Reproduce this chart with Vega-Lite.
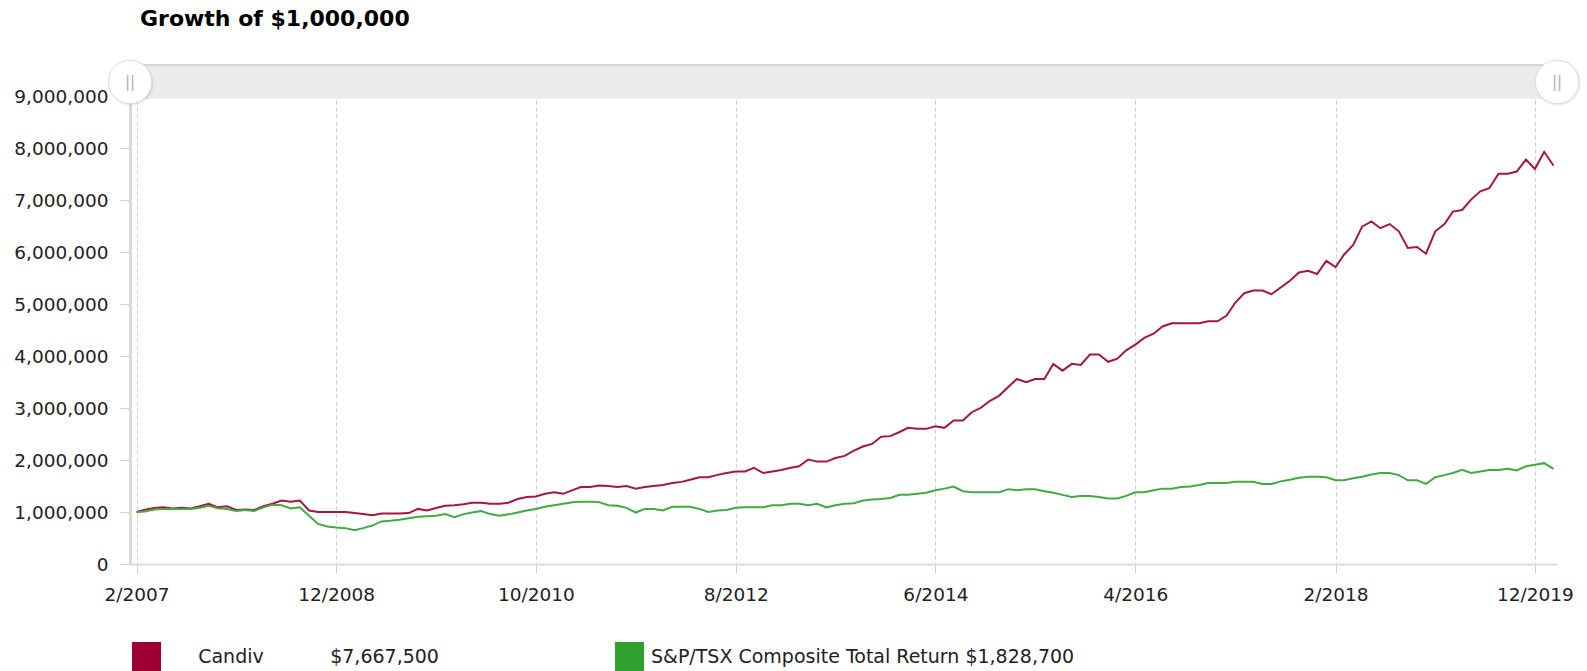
{
  "$schema": "https://vega.github.io/schema/vega-lite/v6.json",
  "autosize": {"type": "none"},
  "width": 1427,
  "height": 499,
  "padding": {"left": 130, "top": 65, "right": 30, "bottom": 107},
  "background": "white",
  "title": {"text": "Growth of $1,000,000", "anchor": "start", "frame": "group", "dx": 10, "offset": 10, "baseline": "alphabetic", "fontSize": 22, "fontWeight": "bold", "font": "DejaVu Sans", "color": "#000"},
  "config": {"view": {"stroke": null}, "font": "DejaVu Sans"},
  "data": {"values": [
    {"d":"2007-02-01T00:00","c":1000000,"s":1000000},
    {"d":"2007-03-01T00:00","c":1044000,"s":1010000},
    {"d":"2007-04-01T00:00","c":1077000,"s":1050000},
    {"d":"2007-05-01T00:00","c":1090000,"s":1060000},
    {"d":"2007-06-01T00:00","c":1070000,"s":1060000},
    {"d":"2007-07-01T00:00","c":1080000,"s":1060000},
    {"d":"2007-08-01T00:00","c":1070000,"s":1060000},
    {"d":"2007-09-01T00:00","c":1110000,"s":1080000},
    {"d":"2007-10-01T00:00","c":1160000,"s":1120000},
    {"d":"2007-11-01T00:00","c":1090000,"s":1070000},
    {"d":"2007-12-01T00:00","c":1110000,"s":1060000},
    {"d":"2008-01-01T00:00","c":1040000,"s":1020000},
    {"d":"2008-02-01T00:00","c":1050000,"s":1040000},
    {"d":"2008-03-01T00:00","c":1040000,"s":1020000},
    {"d":"2008-04-01T00:00","c":1110000,"s":1090000},
    {"d":"2008-05-01T00:00","c":1160000,"s":1140000},
    {"d":"2008-06-01T00:00","c":1220000,"s":1130000},
    {"d":"2008-07-01T00:00","c":1200000,"s":1070000},
    {"d":"2008-08-01T00:00","c":1220000,"s":1090000},
    {"d":"2008-09-01T00:00","c":1030000,"s":930000},
    {"d":"2008-10-01T00:00","c":1000000,"s":770000},
    {"d":"2008-11-01T00:00","c":1000000,"s":720000},
    {"d":"2008-12-01T00:00","c":1000000,"s":700000},
    {"d":"2009-01-01T00:00","c":1000000,"s":690000},
    {"d":"2009-02-01T00:00","c":980000,"s":650000},
    {"d":"2009-03-01T00:00","c":960000,"s":690000},
    {"d":"2009-04-01T00:00","c":940000,"s":740000},
    {"d":"2009-05-01T00:00","c":970000,"s":820000},
    {"d":"2009-06-01T00:00","c":970000,"s":830000},
    {"d":"2009-07-01T00:00","c":970000,"s":850000},
    {"d":"2009-08-01T00:00","c":980000,"s":880000},
    {"d":"2009-09-01T00:00","c":1060000,"s":910000},
    {"d":"2009-10-01T00:00","c":1030000,"s":920000},
    {"d":"2009-11-01T00:00","c":1077000,"s":930000},
    {"d":"2009-12-01T00:00","c":1120000,"s":960000},
    {"d":"2010-01-01T00:00","c":1130000,"s":900000},
    {"d":"2010-02-01T00:00","c":1150000,"s":960000},
    {"d":"2010-03-01T00:00","c":1180000,"s":990000},
    {"d":"2010-04-01T00:00","c":1180000,"s":1020000},
    {"d":"2010-05-01T00:00","c":1160000,"s":960000},
    {"d":"2010-06-01T00:00","c":1160000,"s":930000},
    {"d":"2010-07-01T00:00","c":1180000,"s":955000},
    {"d":"2010-08-01T00:00","c":1250000,"s":990000},
    {"d":"2010-09-01T00:00","c":1290000,"s":1030000},
    {"d":"2010-10-01T00:00","c":1300000,"s":1060000},
    {"d":"2010-11-01T00:00","c":1350000,"s":1100000},
    {"d":"2010-12-01T00:00","c":1380000,"s":1130000},
    {"d":"2011-01-01T00:00","c":1350000,"s":1160000},
    {"d":"2011-02-01T00:00","c":1420000,"s":1190000},
    {"d":"2011-03-01T00:00","c":1480000,"s":1200000},
    {"d":"2011-04-01T00:00","c":1480000,"s":1200000},
    {"d":"2011-05-01T00:00","c":1510000,"s":1190000},
    {"d":"2011-06-01T00:00","c":1500000,"s":1130000},
    {"d":"2011-07-01T00:00","c":1480000,"s":1120000},
    {"d":"2011-08-01T00:00","c":1500000,"s":1080000},
    {"d":"2011-09-01T00:00","c":1450000,"s":990000},
    {"d":"2011-10-01T00:00","c":1480000,"s":1060000},
    {"d":"2011-11-01T00:00","c":1500000,"s":1060000},
    {"d":"2011-12-01T00:00","c":1520000,"s":1030000},
    {"d":"2012-01-01T00:00","c":1560000,"s":1100000},
    {"d":"2012-02-01T00:00","c":1580000,"s":1100000},
    {"d":"2012-03-01T00:00","c":1620000,"s":1100000},
    {"d":"2012-04-01T00:00","c":1670000,"s":1060000},
    {"d":"2012-05-01T00:00","c":1670000,"s":1000000},
    {"d":"2012-06-01T00:00","c":1715000,"s":1030000},
    {"d":"2012-07-01T00:00","c":1750000,"s":1040000},
    {"d":"2012-08-01T00:00","c":1780000,"s":1080000},
    {"d":"2012-09-01T00:00","c":1780000,"s":1090000},
    {"d":"2012-10-01T00:00","c":1850000,"s":1090000},
    {"d":"2012-11-01T00:00","c":1750000,"s":1090000},
    {"d":"2012-12-01T00:00","c":1780000,"s":1130000},
    {"d":"2013-01-01T00:00","c":1810000,"s":1130000},
    {"d":"2013-02-01T00:00","c":1850000,"s":1160000},
    {"d":"2013-03-01T00:00","c":1880000,"s":1160000},
    {"d":"2013-04-01T00:00","c":2010000,"s":1130000},
    {"d":"2013-05-01T00:00","c":1970000,"s":1160000},
    {"d":"2013-06-01T00:00","c":1970000,"s":1090000},
    {"d":"2013-07-01T00:00","c":2040000,"s":1130000},
    {"d":"2013-08-01T00:00","c":2080000,"s":1160000},
    {"d":"2013-09-01T00:00","c":2180000,"s":1170000},
    {"d":"2013-10-01T00:00","c":2260000,"s":1220000},
    {"d":"2013-11-01T00:00","c":2310000,"s":1240000},
    {"d":"2013-12-01T00:00","c":2450000,"s":1250000},
    {"d":"2014-01-01T00:00","c":2460000,"s":1270000},
    {"d":"2014-02-01T00:00","c":2540000,"s":1330000},
    {"d":"2014-03-01T00:00","c":2620000,"s":1330000},
    {"d":"2014-04-01T00:00","c":2600000,"s":1350000},
    {"d":"2014-05-01T00:00","c":2600000,"s":1370000},
    {"d":"2014-06-01T00:00","c":2650000,"s":1420000},
    {"d":"2014-07-01T00:00","c":2620000,"s":1450000},
    {"d":"2014-08-01T00:00","c":2760000,"s":1490000},
    {"d":"2014-09-01T00:00","c":2760000,"s":1400000},
    {"d":"2014-10-01T00:00","c":2920000,"s":1380000},
    {"d":"2014-11-01T00:00","c":3010000,"s":1380000},
    {"d":"2014-12-01T00:00","c":3140000,"s":1380000},
    {"d":"2015-01-01T00:00","c":3240000,"s":1380000},
    {"d":"2015-02-01T00:00","c":3410000,"s":1440000},
    {"d":"2015-03-01T00:00","c":3560000,"s":1420000},
    {"d":"2015-04-01T00:00","c":3500000,"s":1440000},
    {"d":"2015-05-01T00:00","c":3560000,"s":1440000},
    {"d":"2015-06-01T00:00","c":3560000,"s":1400000},
    {"d":"2015-07-01T00:00","c":3850000,"s":1370000},
    {"d":"2015-08-01T00:00","c":3720000,"s":1330000},
    {"d":"2015-09-01T00:00","c":3850000,"s":1290000},
    {"d":"2015-10-01T00:00","c":3830000,"s":1310000},
    {"d":"2015-11-01T00:00","c":4030000,"s":1310000},
    {"d":"2015-12-01T00:00","c":4030000,"s":1290000},
    {"d":"2016-01-01T00:00","c":3890000,"s":1260000},
    {"d":"2016-02-01T00:00","c":3950000,"s":1260000},
    {"d":"2016-03-01T00:00","c":4110000,"s":1310000},
    {"d":"2016-04-01T00:00","c":4220000,"s":1380000},
    {"d":"2016-05-01T00:00","c":4350000,"s":1380000},
    {"d":"2016-06-01T00:00","c":4430000,"s":1420000},
    {"d":"2016-07-01T00:00","c":4570000,"s":1450000},
    {"d":"2016-08-01T00:00","c":4630000,"s":1450000},
    {"d":"2016-09-01T00:00","c":4630000,"s":1480000},
    {"d":"2016-10-01T00:00","c":4630000,"s":1490000},
    {"d":"2016-11-01T00:00","c":4630000,"s":1520000},
    {"d":"2016-12-01T00:00","c":4670000,"s":1560000},
    {"d":"2017-01-01T00:00","c":4670000,"s":1560000},
    {"d":"2017-02-01T00:00","c":4780000,"s":1560000},
    {"d":"2017-03-01T00:00","c":5020000,"s":1580000},
    {"d":"2017-04-01T00:00","c":5210000,"s":1580000},
    {"d":"2017-05-01T00:00","c":5260000,"s":1580000},
    {"d":"2017-06-01T00:00","c":5260000,"s":1540000},
    {"d":"2017-07-01T00:00","c":5190000,"s":1540000},
    {"d":"2017-08-01T00:00","c":5320000,"s":1590000},
    {"d":"2017-09-01T00:00","c":5450000,"s":1620000},
    {"d":"2017-10-01T00:00","c":5610000,"s":1660000},
    {"d":"2017-11-01T00:00","c":5640000,"s":1680000},
    {"d":"2017-12-01T00:00","c":5580000,"s":1680000},
    {"d":"2018-01-01T00:00","c":5830000,"s":1670000},
    {"d":"2018-02-01T00:00","c":5710000,"s":1610000},
    {"d":"2018-03-01T00:00","c":5950000,"s":1610000},
    {"d":"2018-04-01T00:00","c":6140000,"s":1650000},
    {"d":"2018-05-01T00:00","c":6490000,"s":1680000},
    {"d":"2018-06-01T00:00","c":6590000,"s":1720000},
    {"d":"2018-07-01T00:00","c":6460000,"s":1750000},
    {"d":"2018-08-01T00:00","c":6540000,"s":1750000},
    {"d":"2018-09-01T00:00","c":6400000,"s":1710000},
    {"d":"2018-10-01T00:00","c":6080000,"s":1610000},
    {"d":"2018-11-01T00:00","c":6100000,"s":1610000},
    {"d":"2018-12-01T00:00","c":5970000,"s":1540000},
    {"d":"2019-01-01T00:00","c":6400000,"s":1670000},
    {"d":"2019-02-01T00:00","c":6540000,"s":1710000},
    {"d":"2019-03-01T00:00","c":6780000,"s":1750000},
    {"d":"2019-04-01T00:00","c":6810000,"s":1810000},
    {"d":"2019-05-01T00:00","c":7010000,"s":1750000},
    {"d":"2019-06-01T00:00","c":7170000,"s":1780000},
    {"d":"2019-07-01T00:00","c":7230000,"s":1810000},
    {"d":"2019-08-01T00:00","c":7510000,"s":1810000},
    {"d":"2019-09-01T00:00","c":7510000,"s":1830000},
    {"d":"2019-10-01T00:00","c":7550000,"s":1800000},
    {"d":"2019-11-01T00:00","c":7780000,"s":1880000},
    {"d":"2019-12-01T00:00","c":7600000,"s":1910000},
    {"d":"2020-01-01T00:00","c":7930000,"s":1940000},
    {"d":"2020-02-01T00:00","c":7667500,"s":1828700}
  ]},
  "layer": [
    {
      "transform": [{"fold": ["c", "s"], "as": ["series", "value"]}],
      "mark": {"type": "line", "strokeWidth": 2},
      "encoding": {
        "x": {
          "field": "d", "type": "temporal",
          "scale": {"domain": [{"year": 2007, "month": 1, "date": 10}, {"year": 2020, "month": 2, "date": 13}]},
          "axis": {
            "values": [
              {"year": 2007, "month": 2, "date": 1},
              {"year": 2008, "month": 12, "date": 1},
              {"year": 2010, "month": 10, "date": 1},
              {"year": 2012, "month": 8, "date": 1},
              {"year": 2014, "month": 6, "date": 1},
              {"year": 2016, "month": 4, "date": 1},
              {"year": 2018, "month": 2, "date": 1},
              {"year": 2019, "month": 12, "date": 1}
            ],
            "format": "%-m/%Y", "title": null,
            "grid": true, "gridDash": [4, 3], "gridColor": "#cfcfcf", "gridWidth": 1,
            "domainColor": "#dddddd", "domainWidth": 2,
            "tickColor": "#cfcfcf", "tickSize": 9,
            "labelFontSize": 18.5, "labelColor": "#222222", "labelPadding": 12,
            "labelFlush": false, "labelOverlap": false
          }
        },
        "y": {
          "field": "value", "type": "quantitative",
          "scale": {"domain": [0, 9600000], "nice": false},
          "axis": {
            "values": [0, 1000000, 2000000, 3000000, 4000000, 5000000, 6000000, 7000000, 8000000, 9000000],
            "format": ",d", "title": null, "grid": false,
            "domainColor": "#d9d9d9", "domainWidth": 3,
            "tickColor": "#cfcfcf", "tickSize": 10,
            "labelFontSize": 18.5, "labelColor": "#222222", "labelPadding": 12
          }
        },
        "color": {
          "field": "series", "type": "nominal",
          "scale": {"domain": ["c", "s"], "range": ["#A8153F", "#42AA42"]},
          "legend": {
            "orient": "none", "legendX": 2, "legendY": 577,
            "direction": "horizontal", "title": null,
            "symbolType": "square", "symbolSize": 841, "symbolStrokeWidth": 0,
            "labelFontSize": 19, "labelColor": "#222222", "labelOffset": 7, "labelLimit": 800,
            "columnPadding": 176,
            "labelExpr": "datum.value == 'c' ? '\u200b\u00a0\u00a0\u00a0\u00a0\u00a0Candiv\u00a0\u00a0\u00a0\u00a0\u00a0\u00a0\u00a0\u00a0\u00a0\u00a0\u00a0$7,667,500' : 'S&P/TSX Composite Total Return $1,828,700'",
            "encode": {"symbols": {"update": {"fill": {"signal": "datum.value == 'c' ? '#9E0035' : '#2EA02E'"}, "strokeWidth": {"value": 0}, "opacity": {"value": 1}}}}
          }
        }
      }
    },
    {
      "data": {"values": [{}]},
      "mark": {"type": "rect", "color": "#ebebeb"},
      "encoding": {
        "x": {"datum": {"year": 2007, "month": 1, "date": 10}, "type": "temporal"},
        "x2": {"datum": {"year": 2020, "month": 2, "date": 13}},
        "y": {"datum": 8950000, "type": "quantitative"},
        "y2": {"datum": 9600000}
      }
    },
    {
      "data": {"values": [{}]},
      "mark": {"type": "rule", "color": "#d6d6d6", "strokeWidth": 2},
      "encoding": {"y": {"datum": 9600000, "type": "quantitative"}}
    },
    {
      "data": {"values": [{}]},
      "mark": {"type": "point", "shape": "circle", "size": 2050, "filled": true, "color": "#000000", "opacity": 0.07},
      "encoding": {
        "x": {"datum": {"year": 2007, "month": 1, "date": 14}, "type": "temporal"},
        "y": {"datum": 9250000, "type": "quantitative"}
      }
    },
    {
      "data": {"values": [{}]},
      "mark": {"type": "point", "shape": "circle", "size": 2050, "filled": true, "color": "#000000", "opacity": 0.07},
      "encoding": {
        "x": {"datum": {"year": 2020, "month": 2, "date": 17}, "type": "temporal"},
        "y": {"datum": 9250000, "type": "quantitative"}
      }
    },
    {
      "data": {"values": [{}]},
      "mark": {"type": "point", "shape": "circle", "size": 1886, "filled": true, "fill": "white", "stroke": "#dcdcdc", "strokeWidth": 1, "opacity": 1, "fillOpacity": 1},
      "encoding": {
        "x": {"datum": {"year": 2007, "month": 1, "date": 10}, "type": "temporal"},
        "y": {"datum": 9275000, "type": "quantitative"}
      }
    },
    {
      "data": {"values": [{}]},
      "mark": {"type": "point", "shape": "circle", "size": 1886, "filled": true, "fill": "white", "stroke": "#dcdcdc", "strokeWidth": 1, "opacity": 1, "fillOpacity": 1},
      "encoding": {
        "x": {"datum": {"year": 2020, "month": 2, "date": 13}, "type": "temporal"},
        "y": {"datum": 9275000, "type": "quantitative"}
      }
    },
    {
      "data": {"values": [{}]},
      "mark": {"type": "text", "text": "||", "fontSize": 15, "color": "#b0b0b0", "font": "DejaVu Sans"},
      "encoding": {
        "x": {"datum": {"year": 2007, "month": 1, "date": 10}, "type": "temporal"},
        "y": {"datum": 9275000, "type": "quantitative"}
      }
    },
    {
      "data": {"values": [{}]},
      "mark": {"type": "text", "text": "||", "fontSize": 15, "color": "#b0b0b0", "font": "DejaVu Sans"},
      "encoding": {
        "x": {"datum": {"year": 2020, "month": 2, "date": 13}, "type": "temporal"},
        "y": {"datum": 9275000, "type": "quantitative"}
      }
    }
  ]
}
